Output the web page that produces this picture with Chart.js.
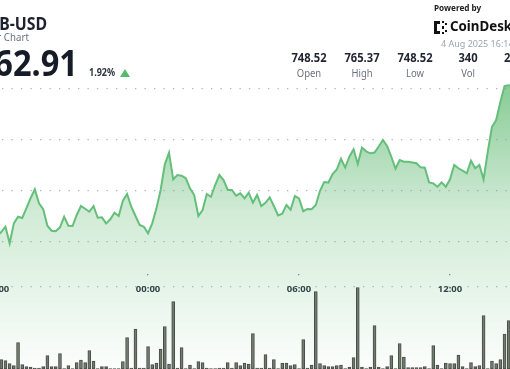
<!DOCTYPE html>
<html>
<head>
<meta charset="utf-8">
<script src="https://cdn.jsdelivr.net/npm/chart.js@4.4.1/dist/chart.umd.min.js"></script>
<style>
  html, body { margin: 0; padding: 0; background: #fff; }
  #wrap { position: relative; width: 510px; height: 369px; overflow: hidden; background: #fff; font-family: "Noto Sans", sans-serif; }
  #chart { position: absolute; left: 0; top: 0; }
  .t { position: absolute; white-space: nowrap; line-height: 1; }
  .r { transform: scaleX(0.88); transform-origin: right center; }
  .stat { position: absolute; width: 70px; text-align: center; line-height: 1; white-space: nowrap; transform: scaleX(0.86); }
  .stat b { display: block; font-size: 13px; font-weight: 700; color: #1f2430; }
  .stat span { display: block; font-size: 11px; color: #6b7280; margin-top: 3px; }
</style>
</head>
<body>
<div id="wrap">
  <canvas id="chart" width="510" height="369"></canvas>

  <div class="t r" style="right:463px; top:14px; font-size:18px; font-weight:700; color:#1d2230;">BNB-USD</div>
  <div class="t r" style="right:481px; top:31px; font-size:11px; color:#6b7280;">24 Hour Chart</div>
  <div class="t" style="right:432px; top:45px; font-size:35px; font-weight:700; color:#161b28; transform:scaleX(0.93); transform-origin:right center;">762.91</div>
  <div class="t" style="left:89px; top:67px; font-size:10px; font-weight:700; color:#2f3440; transform:scaleX(0.9); transform-origin:left center;">1.92%</div>
  <div style="position:absolute; left:120px; top:69px; width:0; height:0; border-left:5px solid transparent; border-right:5px solid transparent; border-bottom:8px solid #57b96b;"></div>

  <div class="stat" style="left:274px; top:51px;"><b>748.52</b><span>Open</span></div>
  <div class="stat" style="left:327px; top:51px;"><b>765.37</b><span>High</span></div>
  <div class="stat" style="left:380px; top:51px;"><b>748.52</b><span>Low</span></div>
  <div class="stat" style="left:433px; top:51px;"><b>340</b><span>Vol</span></div>
  <div class="stat" style="left:487px; top:51px;"><b>259.1K</b><span>Value</span></div>

  <div class="t" style="left:434px; top:3px; font-size:9.5px; font-weight:700; color:#222; transform:scaleX(0.86); transform-origin:left center;">Powered by</div>
  <svg style="position:absolute; left:434px; top:21px;" width="13" height="13" viewBox="0 0 13 13">
    <rect x="0" y="0" width="3" height="13" fill="#111"/>
    <rect x="0" y="0" width="6" height="3" fill="#111"/>
    <rect x="0" y="10" width="6" height="3" fill="#111"/>
    <rect x="8" y="0" width="2" height="2" fill="#111"/>
    <rect x="11" y="2" width="2" height="2" fill="#111"/>
    <rect x="8" y="5" width="2" height="3" fill="#111"/>
    <rect x="11" y="9" width="2" height="2" fill="#111"/>
    <rect x="8" y="11" width="2" height="2" fill="#111"/>
  </svg>
  <div class="t" style="left:450px; top:19px; font-size:14px; font-weight:700; color:#111; transform:scaleX(0.95); transform-origin:left center;">CoinDesk</div>
  <div class="t" style="left:441px; top:38.5px; font-size:9px; color:#9ca3af;">4 Aug 2025 16:14 UTC</div>
</div>

<script>
// x axis labels and the 10-minute slots they sit on (slot 0 = 18:00)
const tickLabels = ['18:00', '00:00', '06:00', '12:00'];
const tickSlots = [0, 36, 72, 108];
const priceTicks = [750, 755, 760, 765];
const axisFloor = 745.6;

// BNB-USD price, one value every 10 minutes from 18:00
const price = [
  750.59, 750.98, 751.50, 749.87, 751.83, 752.48, 752.35, 753.33, 754.31, 755.17,
  753.79, 753.21, 751.60, 751.11, 751.05, 751.44, 752.48, 751.60, 751.57, 752.65,
  753.53, 753.26, 752.97, 753.53, 752.38, 752.42, 751.83, 752.23, 752.87, 752.55,
  754.05, 754.71, 753.46, 752.55, 751.67, 751.50, 750.85, 751.83, 753.30, 755.10,
  757.62, 758.75, 756.15, 756.57, 756.50, 756.25, 755.26, 754.61, 752.55, 753.14,
  754.71, 754.44, 755.59, 756.57, 756.08, 755.10, 755.10, 754.54, 754.77, 754.28,
  754.83, 753.85, 754.61, 753.53, 753.85, 754.38, 753.53, 752.60, 752.77, 753.63,
  753.17, 754.51, 754.28, 753.02, 753.24, 753.21, 753.63, 755.02, 755.88, 755.83,
  756.67, 757.11, 758.16, 757.30, 758.36, 759.09, 757.65, 759.25, 758.89, 758.70,
  758.77, 759.36, 760.00, 759.41, 758.36, 757.19, 758.04, 757.87, 757.87, 757.80,
  757.72, 757.32, 757.28, 755.85, 755.75, 755.42, 755.85, 755.42, 756.15, 757.55,
  757.23, 756.99, 756.74, 757.97, 757.23, 757.55, 756.15, 758.85, 761.30, 761.96,
  763.73, 765.29, 765.37, 765.30
];

// traded volume per 10-minute slot
const volume = [
  0.3, 1.9, 1.7, 1.1, 0.7, 5.3, 0.9, 0.5, 0.4, 0.2,
  0.2, 0.5, 2.7, 0.5, 0.5, 3.1, 0.1, 0.7, 0.1, 1.3,
  1.8, 1.3, 3.7, 1.6, 0.1, 0.5, 0.5, 0.1, 0.1, 0.1,
  1.5, 6.3, 0.2, 8.0, 0.2, 0.2, 4.5, 0.9, 1.2, 4.0,
  8.5, 1.0, 13.5, 0.2, 4.3, 0.1, 0.8, 0.1, 1.5, 1.3,
  0.2, 0.1, 0.1, 0.2, 0.2, 1.3, 0.2, 1.3, 0.7, 1.2,
  1.0, 7.1, 0.2, 0.2, 2.9, 0.2, 1.9, 0.1, 1.2, 1.2,
  0.7, 0.9, 0.1, 5.9, 0.2, 0.8, 15.5, 1.1, 0.7, 0.5,
  0.5, 0.7, 0.8, 0.1, 0.4, 2.3, 16.3, 0.4, 0.1, 0.4,
  8.7, 0.4, 0.1, 0.5, 2.7, 0.1, 5.1, 2.4, 0.3, 0.3,
  0.3, 0.3, 0.5, 0.1, 4.7, 0.8, 0.1, 1.2, 1.1, 1.1,
  2.8, 0.5, 0.1, 1.3, 0.5, 0.7, 10.7, 0.1, 1.6, 1.1,
  1.9, 7.0, 9.7, 2.0
];

const fontFamily = '"Noto Sans", sans-serif';

function areaFill(context) {
  const chart = context.chart;
  const area = chart.chartArea;
  if (!area) return 'rgba(92,184,110,0.3)';
  const top = chart.scales.y.getPixelForValue(Math.max(...price));
  const g = chart.ctx.createLinearGradient(0, top, 0, area.bottom);
  g.addColorStop(0, 'rgba(92,184,110,0.72)');
  g.addColorStop(0.45, 'rgba(92,184,110,0.28)');
  g.addColorStop(1, 'rgba(92,184,110,0.02)');
  return g;
}

const ctx = document.getElementById('chart').getContext('2d');
new Chart(ctx, {
  data: {
    datasets: [
      {
        type: 'bar',
        label: 'Volume',
        yAxisID: 'yv',
        order: 0,
        data: volume.map((v, i) => ({ x: i, y: v })),
        backgroundColor: '#717a6e',
        borderColor: '#474e45',
        borderWidth: 1,
        borderSkipped: false,
        barThickness: 3
      },
      {
        type: 'line',
        label: 'Price',
        yAxisID: 'y',
        order: 1,
        data: price.map((v, i) => ({ x: i, y: v })),
        borderColor: '#63bf79',
        borderWidth: 2,
        pointRadius: 0,
        tension: 0,
        fill: 'start',
        backgroundColor: areaFill
      }
    ]
  },
  options: {
    responsive: false,
    animation: false,
    layout: { padding: 0, autoPadding: false },
    plugins: { legend: { display: false }, tooltip: { enabled: false } },
    scales: {
      x: {
        type: 'linear',
        position: 'bottom',
        offset: false,
        min: 0.7,
        max: 122.3,
        afterBuildTicks: (scale) => { scale.ticks = tickSlots.map(v => ({ value: v })); },
        // labels are mirrored up into the plot, so the axis itself takes no room
        afterFit: (scale) => { scale.height = 0; scale.paddingLeft = 0; scale.paddingRight = 0; },
        ticks: {
          autoSkip: false,
          maxRotation: 0,
          mirror: true,
          padding: 74,
          color: '#2b3140',
          font: { family: fontFamily, size: 9.5, weight: 'bold' },
          callback: (v) => tickLabels[tickSlots.indexOf(v)]
        },
        grid: { offset: false, drawTicks: false, color: '#7d838a', lineWidth: 1.3 },
        border: { display: false, dash: [1.3, 1000], dashOffset: -274 }
      },
      y: {
        min: 737.55,
        max: 773.73,
        afterBuildTicks: (scale) => { scale.ticks = [axisFloor, ...priceTicks].map(v => ({ value: v })); },
        afterFit: (scale) => { scale.width = 0; },
        ticks: { display: false },
        grid: { drawTicks: false, color: '#b3b3b3', lineWidth: 1.3 },
        border: { display: false, dash: [1.3, 8.2], dashOffset: -2 }
      },
      yv: {
        display: false,
        min: 0,
        max: 73.8
      }
    }
  }
});
</script>
</body>
</html>
